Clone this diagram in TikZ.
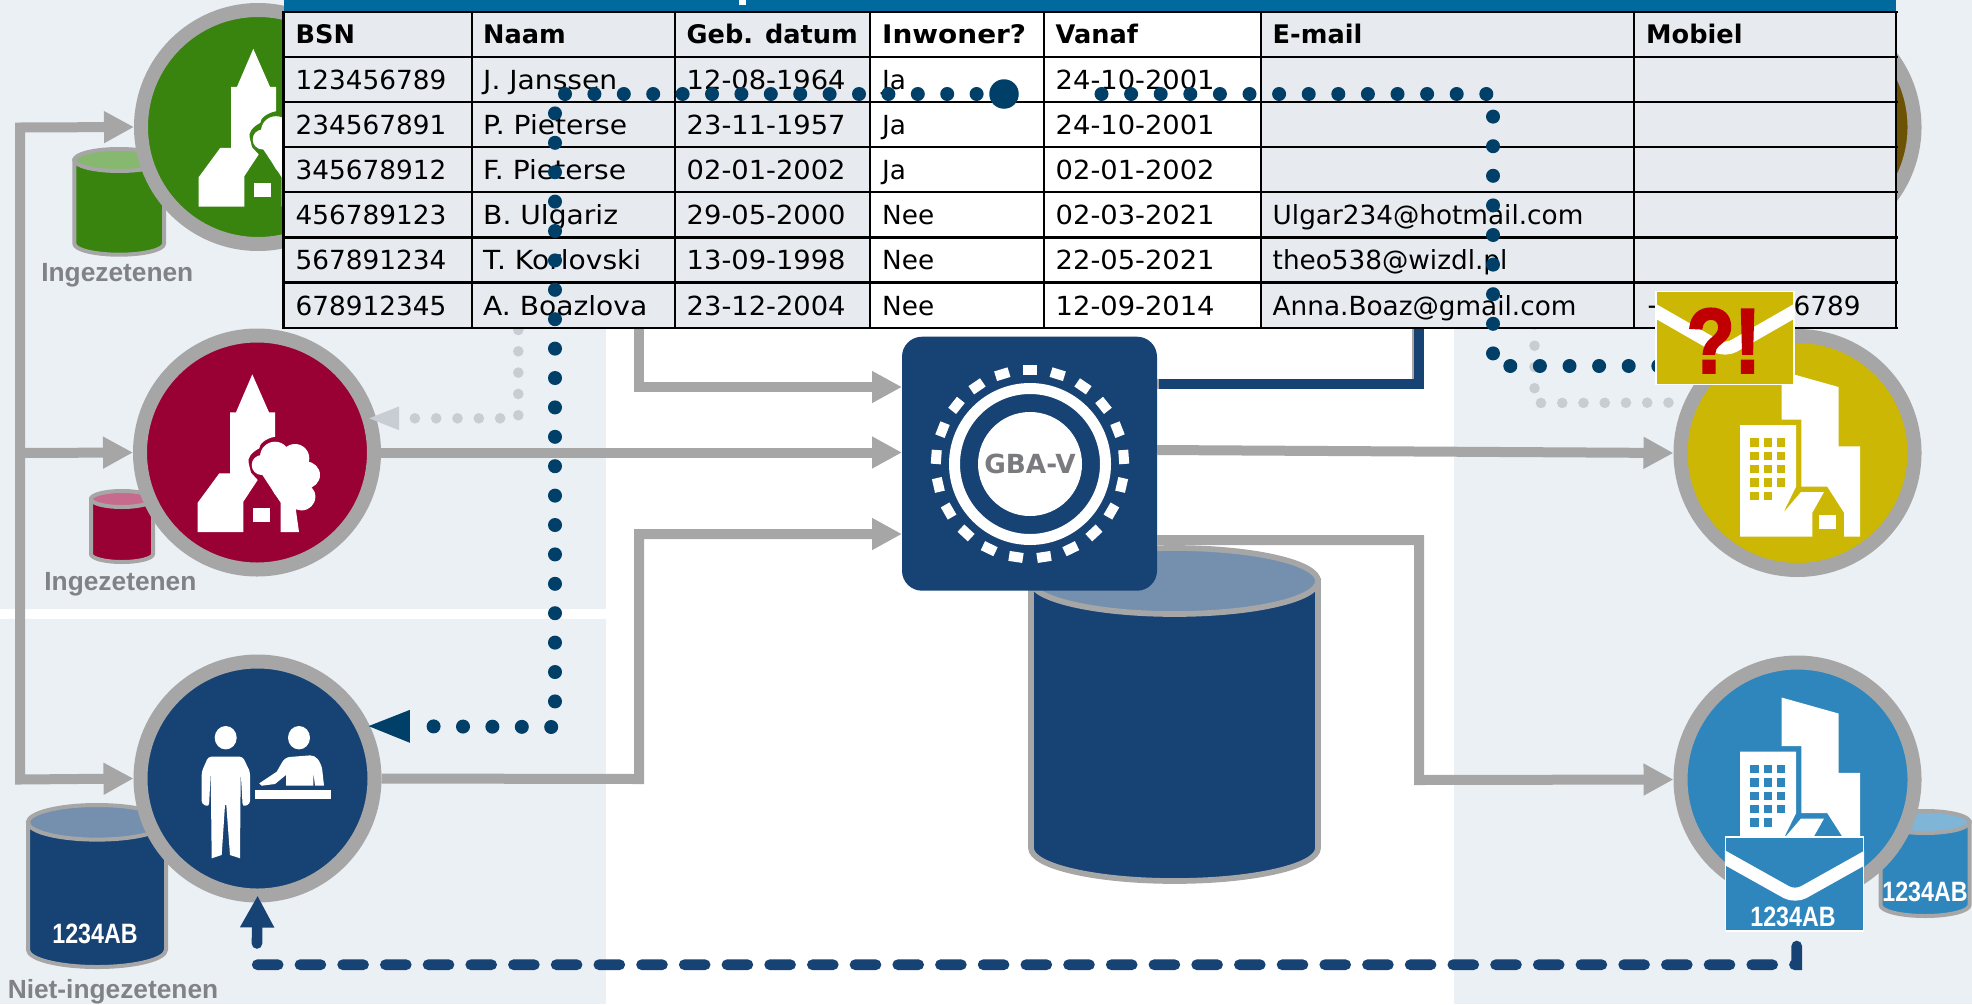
\documentclass[tikz,border=0pt]{standalone}
\usepackage{fontspec}
\newfontfamily\tablefont{DejaVu Sans}
\newfontfamily\namefont[FakeStretch=1.07]{DejaVu Sans}
\newfontfamily\datefont[FakeStretch=1.04]{DejaVu Sans}
\newfontfamily\wideheadfont[FakeStretch=1.09]{DejaVu Sans Bold}
\newfontfamily\labelfont{Liberation Sans}
\newfontfamily\narrowfont[FakeStretch=0.83]{Liberation Sans}
\newfontfamily\alertfont[FakeStretch=0.85,FakeBold=2.5]{Liberation Sans Bold}
\usepackage{tikz}
\usetikzlibrary{arrows.meta}

\definecolor{panelbg}{HTML}{EBF0F5}
\definecolor{linegray}{HTML}{A6A6A6}
\definecolor{labelgray}{HTML}{808285}
\definecolor{navy}{HTML}{174274}
\definecolor{navytop}{HTML}{7490AE}
\definecolor{dotnavy}{HTML}{003F68}
\definecolor{dotlight}{HTML}{C8CCD3}
\definecolor{cellgray}{HTML}{E7EAEF}
\definecolor{tablehead}{HTML}{00699E}
\definecolor{gemgreen}{HTML}{38840E}
\definecolor{gemgreentop}{HTML}{87B86F}
\definecolor{gemred}{HTML}{990033}
\definecolor{gemredtop}{HTML}{C76B8C}
\definecolor{gemyellow}{HTML}{CBB704}
\definecolor{gembrown}{HTML}{6D5205}
\definecolor{gemblue}{HTML}{2E86BD}
\definecolor{gembluetop}{HTML}{7FB5D7}
\definecolor{alertred}{HTML}{C00000}

\tikzset{
    gemeente/.style={circle, draw=linegray, line width=14pt, minimum size=234pt, inner sep=0pt},
    graylink/.style={draw=linegray, line width=10pt},
    grayarrow/.style={graylink, -{Triangle[length=30pt,width=30pt]}},
    navydots/.style={draw=dotnavy, line width=14pt, line cap=round},
    lightdots/.style={draw=dotlight, line width=10.6pt, line cap=round},
    drumtext/.style={font=\narrowfont\bfseries\fontsize{28}{30}\selectfont, text=white, inner sep=0pt},
    grouplabel/.style={anchor=base, inner sep=0pt, text=labelgray, font=\labelfont\bfseries\fontsize{26.3}{30}\selectfont},
    celltext/.style={anchor=base west, inner sep=0pt, font=\tablefont\fontsize{26.3}{30}\selectfont},
    cellhead/.style={anchor=base west, inner sep=0pt, font=\tablefont\bfseries\fontsize{25.6}{30}\selectfont},
    mailbox/.style={draw=white, line width=1.2pt, inner sep=0pt, minimum width=138pt, minimum height=94pt}
}

% drum: centre x, x radius, top, ellipse y radius, bottom, body colour, lid colour
\newcommand{\drumwidth}{4pt}
\newcommand{\drum}[7]{
    \pgfmathsetmacro{\drumlow}{#5-#4}
    \pgfmathsetmacro{\drumlid}{#3+#4}
    \draw[linegray, line width=\drumwidth, fill=#6] (#1-#2,\drumlid) -- (#1-#2,\drumlow)
        arc[start angle=180, end angle=360, x radius=#2pt, y radius=#4pt] -- (#1+#2,\drumlid) -- cycle;
    \draw[linegray, line width=\drumwidth, fill=#7] (#1,\drumlid) ellipse[x radius=#2pt, y radius=#4pt];
}

% church, tree and house, drawn round the centre of a circle
\newcommand{\villageicon}[1]{
    \begin{scope}[shift={(#1.center)}]
        \fill[white] (-59.3,79.5) -- (-59.3,50.2) -- (-37.7,20.8) -- (-27,20.8) -- (-27,-40.2) -- (-21,-40.2)
            -- (-4.7,-78.2) -- (12,-40.2) -- (18,-40.2) -- (18,-15.8) .. controls (8,-14) and (2,-8) .. (2.3,-4.2)
            .. controls (-6,0) and (-10,6) .. (-8.3,10.8) -- (-6,20.2) -- (0.7,27.5) -- (-13.7,49.2) -- (-13.7,79.5) -- cycle;
        \fill[white] (23.7,79.5) -- (23.7,50.2) -- (4.7,21.5) -- (0,15) -- (20,5) -- (40,20) -- (39,58.2) -- (42,79.5) -- cycle;
        \foreach \lobex/\lobey/\lober in {18/4.2/15, 38/5.8/14.3, 49.7/22.5/13.3, 44.7/44.2/13.7, 4.7/12.5/10, 34/30/20}
            \fill[white] (\lobex,\lobey) circle[radius=\lober pt];
        \fill[white] (-4,55.5) rectangle (13,69.5);
    \end{scope}
}

% office blocks and house, windows in the colour of the circle
\newcommand{\cityicon}[2]{
    \begin{scope}[shift={(#1.center)}]
        \fill[white] (-16,-82) -- (41,-66) -- (41,-6.7) -- (62.5,-6.7) -- (62.5,83.7) -- (46.5,83.7) -- (46.5,59.7)
            -- (29.8,33.7) -- (3.8,33.7) -- (3.8,-33.3) -- (-16,-33.3) -- cycle;
        \fill[white] (-57.5,-28) -- (-1.5,-28) -- (-1.5,33.7) -- (-14.2,59.7) -- (3.5,39) -- (26.5,39) -- (14.8,59.7)
            -- (14.8,83.7) -- (-57.5,83.7) -- cycle;
        \fill[white] (21.8,62) rectangle (38.5,76);
        \foreach \winy in {-14.7,-1.3,12,25.3}
            \foreach \winx in {-47.2,-33.8,-20.5}
                \fill[#2] (\winx,\winy) rectangle +(8.3,8.3);
        \foreach \winx in {-47.2,-33.8}
            \fill[#2] (\winx,38.7) rectangle +(8.3,8.3);
    \end{scope}
}

\begin{document}
\begin{tikzpicture}[x=1pt, y=-1pt]
    \useasboundingbox (0,0) rectangle (1972,1004);

    % Panels
    \fill[panelbg] (0,0) rectangle (606,609);
    \fill[panelbg] (0,619) rectangle (606,1004);
    \fill[panelbg] (1454,0) rectangle (1972,1004);

    % Drums behind the circles
    \drum{119.2}{44.8}{149}{11}{254.7}{gemgreen}{gemgreentop}
    \drum{122}{31}{491}{8}{562}{gemred}{gemredtop}
    \drum{97}{69}{805}{17.3}{967}{navy}{navytop}
    \drum{1925}{44.5}{811}{11}{916}{gemblue}{gembluetop}
    \renewcommand{\drumwidth}{5.7pt}
    \drum{1174.5}{143.5}{548}{33}{881}{navy}{navytop}
    \node[drumtext] (nietdrum) at (95,934) {1234AB};
    \node[drumtext] (bluedrum) at (1925,892) {1234AB};

    % Group labels
    \node[grouplabel] (greenlabel) at (117.3,281.7) {Ingezetenen};
    \node[grouplabel] (redlabel) at (120.4,590) {Ingezetenen};
    \node[grouplabel] (nietlabel) at (113,998) {Niet-ingezetenen};

    % Circles
    \node[gemeente, fill=gemgreen] (greencirc) at (258,127) {};
    \node[gemeente, fill=gemred] (redcirc) at (257,452.5) {};
    \node[gemeente, fill=navy] (nietcirc) at (257.5,778.5) {};
    \node[gemeente, fill=gembrown] (browncirc) at (1797.5,127) {};
    \node[gemeente, fill=gemyellow] (yellowcirc) at (1797.5,453) {};
    \node[gemeente, fill=gemblue] (bluecirc) at (1797.5,779.5) {};
    \villageicon{greencirc}
    \villageicon{redcirc}
    \cityicon{yellowcirc}{gemyellow}
    \cityicon{bluecirc}{gemblue}

    % Counter icon
    \begin{scope}[shift={(nietcirc.center)}]
        \fill[white] (-31.8,-40.8) ellipse[x radius=11pt, y radius=11.7pt];
        \fill[white] (41.5,-40.8) ellipse[x radius=11pt, y radius=11.7pt];
        \fill[white, rounded corners=3pt] (-55.8,25.5) -- (-55.8,-6.8) -- (-49.2,-21.8) -- (-14.8,-21.8) -- (-7.5,-6.8)
            -- (-7.5,25.5) -- (-14.8,28.2) -- (-16.8,-6.8) [sharp corners] -- (-17.5,79.8) -- (-27.5,76.5) -- (-31.2,26.5)
            -- (-32.5,26.5) -- (-35.8,76.5) -- (-45.8,79.8) -- (-46.8,-6.8) [rounded corners=3pt] -- (-48.5,28.2) -- cycle;
        \fill[white] (1.8,4.8) -- (19.2,-6.8) [rounded corners=5pt] -- (27.5,-21.2) -- (57.5,-23.5) -- (64.2,-13.5) [sharp corners]
            -- (66.5,7.2) -- (57.5,7.2) -- (55.8,-6.8) -- (55.8,7.2) -- (28.5,7.2) -- (28.5,-3.5) -- (17.5,5.5) -- (4.2,7.2) -- cycle;
        \fill[white] (-2.5,11.5) rectangle (73.5,20.5);
    \end{scope}

    % GBA-V box
    \node[fill=navy, rounded corners=20pt, minimum width=255pt, minimum height=254pt, inner sep=0pt, outer sep=0pt] (gbabox) at (1029.5,463.7) {};
    \node[circle, fill=white, minimum size=104pt, inner sep=0pt, text=labelgray!95!black,
        font=\tablefont\bfseries\fontsize{26.3}{30}\selectfont] (gbadisc) at (1030,464) {GBA-V};
    \draw[white, line width=11pt] (gbadisc) circle[radius=75.5pt];
    \foreach \spoke in {0,...,20}
        \draw[white, line width=14pt] (gbadisc) ++(90-\spoke*17.143:89pt) -- ++(90-\spoke*17.143:10pt);

    % Gray connectors
    \coordinate (bustop) at (20,127.5);
    \coordinate (busred) at (20,453);
    \coordinate (busbot) at (20,779.5);
    \draw[graylink, {Triangle[length=30pt,width=30pt]}-{Triangle[length=30pt,width=30pt]}] (greencirc.west) -- (bustop) -- (busbot) -- (nietcirc.west);
    \draw[grayarrow] (busred) -- (redcirc.west);
    \draw[grayarrow] (greencirc.east) -- (639,127) -- (639,387) -- (gbabox.west |- 0,387);
    \draw[grayarrow] (redcirc.east) -- (gbabox.west |- redcirc.east);
    \draw[grayarrow] (nietcirc.east) -- (639,779) -- (639,534) -- (gbabox.west |- 0,534);
    \draw[grayarrow] (gbabox.east |- 0,450) -- (yellowcirc.west);
    \draw[grayarrow] (gbabox.east |- 0,540) -- (1419,540) -- (1419,780) -- (bluecirc.west);
    \draw[graylink] (gbabox.east |- 0,384) -- (1417,384) -- (1417,127);
    \draw[navy, line width=10pt, shorten <=2pt] (gbabox.east |- 0,384) -- (1419,384) -- (1419,127) -- (browncirc.west);

    % Light dotted returns
    \coordinate (lightstartleft) at (518.3,287.4);
    \coordinate (lightstartright) at (1534.5,303.2);
    \draw[lightdots, dash pattern=on 0.01pt off 21.29pt, shorten >=-9pt, -{Triangle[length=32pt,width=21pt]}] (lightstartleft) -- (518.3,418.3) -- (redcirc.16);
    \draw[lightdots, dash pattern=on 0.01pt off 21.24pt] (lightstartright) -- (1534.5,403) -- (yellowcirc.156);

    % Dashed return from the envelope
    \node[mailbox, fill=gemblue] (mailblue) at (1794.5,884) {};
    \begin{scope}
        \clip (mailblue.south west) rectangle (mailblue.north east);
        \draw[white, line width=13pt, rounded corners=10pt] (1720,855) -- (1795,897) -- (1870,855);
    \end{scope}
    \node[drumtext] (mailtext) at (1793,917) {1234AB};
    \draw[navy, line width=10.6pt, line cap=round, dash pattern=on 21pt off 21.7pt, shorten >=-7pt, -{Triangle[length=32pt,width=32pt]}]
        (1796.7,946) -- (1796.7,964.7) -- (256.7,964.7) -- (nietcirc.south);

    % Table
    \fill[tablehead] (283.5,0) rectangle (1896,11.7);
    \fill[white] (739,0) rectangle (746,5);
    \fill[cellgray] (283.5,11.7) rectangle (870,327.7);
    \fill[white] (870,11.7) rectangle (1261,327.7);
    \fill[cellgray] (1261,11.7) rectangle (1896,327.7);
    \foreach \colx in {283.5,472,675,870,1044,1261,1634,1896}
        \draw[black, line width=2.4pt] (\colx,10.5) -- (\colx,329);
    \foreach \rowy in {11.7,56.7,101.9,147,192.2,237.4,282.6,327.7}
        \draw[black, line width=2.4pt] (282,\rowy) -- (1897.5,\rowy);
    \node[cellhead] (headbsn) at (295.5,43.5) {BSN};
    \node[cellhead] (headnaam) at (483,43.5) {Naam};
    \node[cellhead] (headgeb) at (686.5,43.5) {Geb. datum};
    \node[cellhead, font=\wideheadfont\fontsize{25.6}{30}\selectfont] (headinw) at (882,43.5) {Inwoner?};
    \node[cellhead] (headvanaf) at (1055.5,43.5) {Vanaf};
    \node[cellhead] (headmail) at (1272.5,43.5) {E-mail};
    \node[cellhead] (headmob) at (1646,43.5) {Mobiel};
    \foreach \rownr/\bsn/\naam/\geb/\inw/\vanaf/\mail/\mob in {
        0/123456789/J. Janssen/12-08-1964/Ja/24-10-2001/{}/{},
        1/234567891/P. Pieterse/23-11-1957/Ja/24-10-2001/{}/{},
        2/345678912/F. Pieterse/02-01-2002/Ja/02-01-2002/{}/{},
        3/456789123/B. Ulgariz/29-05-2000/Nee/02-03-2021/Ulgar234@hotmail.com/{},
        4/567891234/T. Korlovski/13-09-1998/Nee/22-05-2021/theo538@wizdl.pl/{},
        5/678912345/A. Boazlova/23-12-2004/Nee/12-09-2014/Anna.Boaz@gmail.com/+31 612456789}
    {
        \pgfmathsetmacro{\celly}{89+45.2*\rownr}
        \node[celltext] (bsn\rownr) at (295.5,\celly) {\bsn};
        \node[celltext, font=\namefont\fontsize{26.3}{30}\selectfont] (naam\rownr) at (483,\celly) {\naam};
        \node[celltext, font=\datefont\fontsize{26.3}{30}\selectfont] (geb\rownr) at (686.5,\celly) {\geb};
        \node[celltext] (inw\rownr) at (882,\celly) {\inw};
        \node[celltext, font=\datefont\fontsize{26.3}{30}\selectfont] (vanaf\rownr) at (1055.5,\celly) {\vanaf};
        \node[celltext] (mail\rownr) at (1272.5,\celly) {\mail};
        \node[celltext] (mob\rownr) at (1646,\celly) {\mob};
    }

    % Navy dotted lines over the table
    \node[circle, fill=dotnavy, minimum size=29.5pt, inner sep=0pt] (bigdot) at (1004,94) {};
    \coordinate (secondstart) at (1101.5,94);
    \coordinate (mailin) at (1670,366);
    \draw[navydots, dash pattern=on 0.01pt off 29.39pt, dash phase=2pt, shorten >=-4pt, -{Triangle[length=44pt,width=29pt]}]
        (bigdot.center) -- (555,94) -- (555,727) -- (nietcirc.25);
    \draw[navydots, dash pattern=on 0.01pt off 29.59pt] (secondstart) -- (1493.3,94) -- (1493.3,366) -- (mailin);

    % Envelope with alert
    \node[mailbox, fill=gemyellow, minimum height=93pt] (mailyellow) at (1725,338.3) {};
    \begin{scope}
        \clip (mailyellow.south west) rectangle (mailyellow.north east);
        \draw[white, line width=13pt, rounded corners=10pt] (1650,308) -- (1725,351) -- (1800,308);
    \end{scope}
    \node[inner sep=0pt, text=alertred, font=\alertfont\fontsize{92}{92}\selectfont] (alert) at (1723.7,340.7) {?!};
\end{tikzpicture}
\end{document}
